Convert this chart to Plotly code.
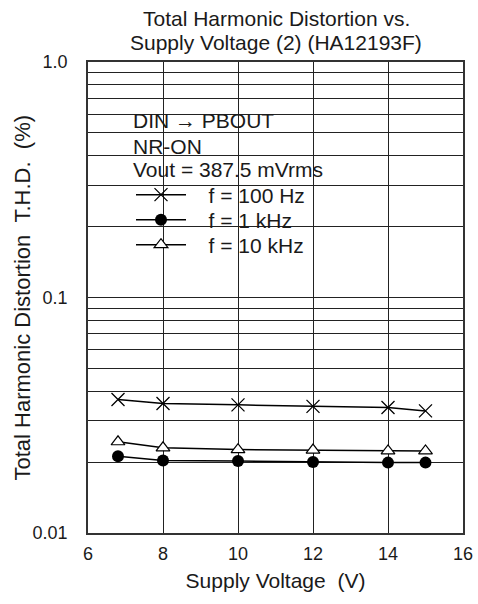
import plotly.graph_objects as go

# Data
voltage = [6.8, 8, 10, 12, 14, 15]
thd_100hz = [0.0369, 0.0355, 0.0350, 0.0345, 0.0341, 0.0330]
thd_1khz = [0.0212, 0.0203, 0.0202, 0.0200, 0.0199, 0.0199]
thd_10khz = [0.0244, 0.0230, 0.0226, 0.0225, 0.0223, 0.0223]

series_names = ["f = 100 Hz", "f = 1 kHz", "f = 10 kHz"]
title_lines = ["Total Harmonic Distortion vs.", "Supply Voltage (2) (HA12193F)"]
box_lines = ["DIN \u2192 PBOUT", "NR-ON", "Vout = 387.5 mVrms"]
x_title = "Supply Voltage\u00a0\u00a0(V)"
y_title = "Total Harmonic Distortion\u00a0\u00a0T.H.D.\u00a0\u00a0(%)"
x_ticks = [6, 8, 10, 12, 14, 16]
y_decades = {0.01: "0.01", 0.1: "0.1", 1.0: "1.0"}
y_grid = [m * d for d in (0.01, 0.1) for m in range(1, 10)] + [1.0]
y_text = [y_decades.get(round(v, 6), "") for v in y_grid]

FONT = "Liberation Sans, Arial, Helvetica, sans-serif"
INK = "#1a1a1a"
FS = 21
FT = 18

L, R, T, B = 88, 15, 62, 71
W, H = 478, 604
pw, ph = W - L - R, H - T - B


def px(x):
    return (x - L) / pw


def py(y):
    return (H - B - y) / ph


PAD = "\u00a0\u00a0\u00a0"
fig = go.Figure()
fig.add_trace(go.Scatter(
    x=voltage, y=thd_100hz, mode="lines+markers", name=PAD + series_names[0],
    legend="legend",
    line=dict(color="black", width=1.5),
    marker=dict(symbol="x-thin-open", size=13, color="black",
                line=dict(color="black", width=1.3)),
))
fig.add_trace(go.Scatter(
    x=voltage, y=thd_1khz, mode="lines+markers", name=PAD + series_names[1],
    legend="legend2",
    line=dict(color="black", width=1.5),
    marker=dict(symbol="circle", size=12, color="black",
                line=dict(color="black", width=0)),
))
fig.add_trace(go.Scatter(
    x=voltage, y=thd_10khz, mode="lines+markers", name=PAD + series_names[2],
    legend="legend3",
    line=dict(color="black", width=1.5),
    marker=dict(symbol="triangle-up", size=12, color="white",
                line=dict(color="black", width=1.2)),
))

fig.add_shape(type="rect", xref="paper", yref="paper",
              x0=px(128), x1=px(333), y0=py(262), y1=py(96),
              fillcolor="white", line=dict(width=0), layer="between")

for txt, yy in zip(box_lines, [121, 146, 170]):
    fig.add_annotation(text=txt, xref="paper", yref="paper", x=px(131), y=py(yy),
                       xanchor="left", yanchor="middle", showarrow=False,
                       font=dict(family=FONT, size=FS, color=INK))

for txt, yy in zip(title_lines, [18, 42]):
    fig.add_annotation(text=txt, xref="paper", yref="paper", x=px(276), y=py(yy),
                       xanchor="center", yanchor="middle", showarrow=False,
                       font=dict(family=FONT, size=FS, color=INK))

# y-axis title placed as rotated annotation
fig.add_annotation(text=y_title, xref="paper", yref="paper", x=px(22), y=0.5,
                   xanchor="center", yanchor="middle", textangle=-90, showarrow=False,
                   font=dict(family=FONT, size=22, color=INK))


def leg(yc):
    return dict(x=px(131), y=py(yc), xanchor="left", yanchor="middle",
                bgcolor="rgba(0,0,0,0)", borderwidth=0,
                font=dict(family=FONT, size=FS, color=INK), itemwidth=50)


fig.update_layout(
    width=W, height=H,
    margin=dict(l=L, r=R, t=T, b=B, autoexpand=False),
    paper_bgcolor="white", plot_bgcolor="white",
    font=dict(family=FONT, size=FS, color=INK),
    showlegend=True,
    legend=leg(195), legend2=leg(220), legend3=leg(245),
    xaxis=dict(range=[6, 16], tickvals=x_ticks, ticktext=[str(v) for v in x_ticks],
               showgrid=True, gridcolor="#222", gridwidth=1,
               showline=True, linecolor="#333", linewidth=1.5, mirror=True,
               ticks="", zeroline=False, automargin=False, ticklabelstandoff=4,
               title=dict(text=x_title, standoff=10,
                          font=dict(family=FONT, size=FS, color=INK)),
               tickfont=dict(family=FONT, size=FT, color=INK)),
    yaxis=dict(type="log", range=[-2, 0], tickvals=y_grid, ticktext=y_text,
               showgrid=True, gridcolor="#222", gridwidth=1,
               showline=True, linecolor="#333", linewidth=1.5, mirror=True,
               ticks="", zeroline=False, automargin=False, ticklabelstandoff=15,
               tickfont=dict(family=FONT, size=FT, color=INK)),
)

fig.write_html("out.html", config={"displayModeBar": False},
               post_script="document.body.style.margin='0';document.body.style.overflow='hidden';")
